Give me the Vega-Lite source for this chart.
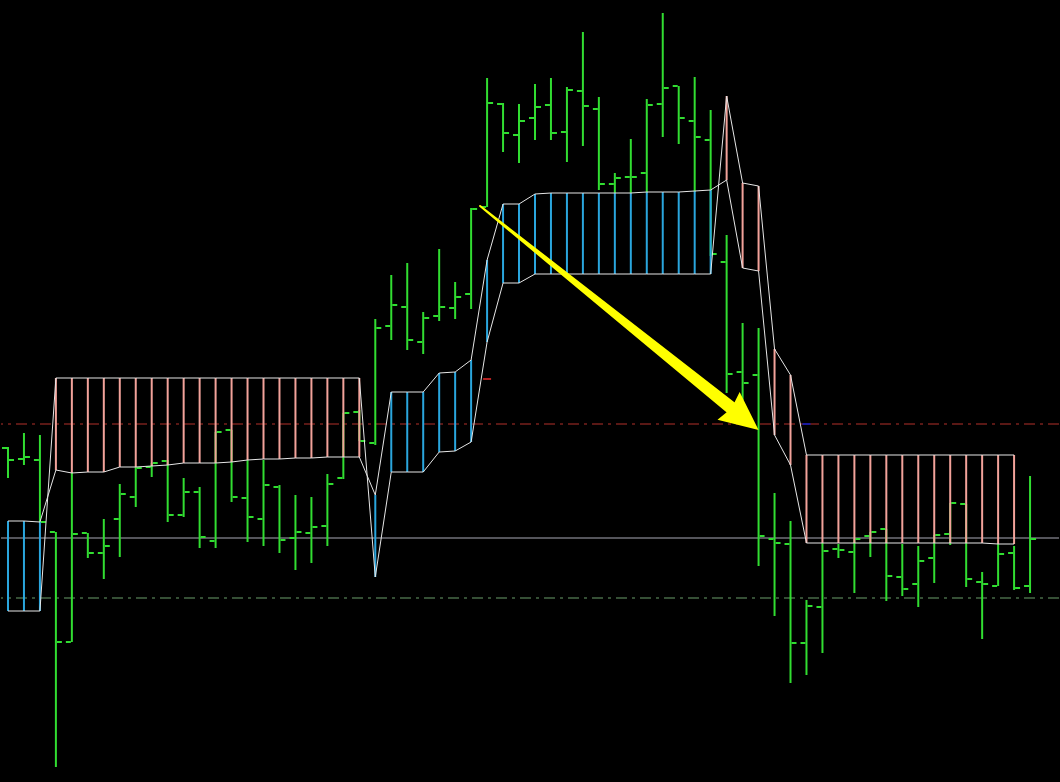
{
  "$schema": "https://vega.github.io/schema/vega-lite/v6.json",
  "width": 1060,
  "height": 782,
  "autosize": {"type": "fit", "contains": "padding"},
  "padding": 0,
  "background": "#000000",
  "config": {"view": {"stroke": null}},
  "resolve": {"scale": {"color": "independent", "strokeDash": "independent", "size": "independent"}},
  "datasets": {
    "bars": [
      {"i":0,"o":334,"h":335,"l":304,"c":322,"a":171,"b":261,"trend":"bull"},
      {"i":1,"o":323,"h":349,"l":317,"c":325,"a":171,"b":261,"trend":"bull"},
      {"i":2,"o":322,"h":347,"l":260,"c":260,"a":171,"b":260,"trend":"bull"},
      {"i":3,"o":250,"h":250,"l":15,"c":140,"a":404,"b":312,"trend":"bear"},
      {"i":4,"o":140,"h":310,"l":140,"c":248,"a":404,"b":309,"trend":"bear"},
      {"i":5,"o":249,"h":249,"l":224,"c":229,"a":404,"b":310,"trend":"bear"},
      {"i":6,"o":229,"h":263,"l":203,"c":236,"a":404,"b":310,"trend":"bear"},
      {"i":7,"o":263,"h":298,"l":225,"c":288,"a":404,"b":315,"trend":"bear"},
      {"i":8,"o":285,"h":315,"l":275,"c":314,"a":404,"b":315,"trend":"bear"},
      {"i":9,"o":315,"h":319,"l":305,"c":319,"a":404,"b":316,"trend":"bear"},
      {"i":10,"o":321,"h":322,"l":260,"c":267,"a":404,"b":317,"trend":"bear"},
      {"i":11,"o":267,"h":304,"l":265,"c":290,"a":404,"b":319,"trend":"bear"},
      {"i":12,"o":290,"h":295,"l":234,"c":245,"a":404,"b":319,"trend":"bear"},
      {"i":13,"o":241,"h":350,"l":234,"c":350,"a":404,"b":319,"trend":"bear"},
      {"i":14,"o":352,"h":352,"l":280,"c":285,"a":404,"b":320,"trend":"bear"},
      {"i":15,"o":284,"h":322,"l":240,"c":265,"a":404,"b":322,"trend":"bear"},
      {"i":16,"o":263,"h":322,"l":236,"c":297,"a":404,"b":323,"trend":"bear"},
      {"i":17,"o":295,"h":297,"l":229,"c":242,"a":404,"b":323,"trend":"bear"},
      {"i":18,"o":244,"h":287,"l":212,"c":250,"a":404,"b":324,"trend":"bear"},
      {"i":19,"o":249,"h":285,"l":219,"c":255,"a":404,"b":324,"trend":"bear"},
      {"i":20,"o":256,"h":308,"l":236,"c":298,"a":404,"b":325,"trend":"bear"},
      {"i":21,"o":304,"h":369,"l":303,"c":369,"a":404,"b":325,"trend":"bear"},
      {"i":22,"o":370,"h":372,"l":341,"c":341,"a":404,"b":325,"trend":"bear"},
      {"i":23,"o":339,"h":463,"l":337,"c":454,"a":205,"b":287,"trend":"bull"},
      {"i":24,"o":456,"h":507,"l":442,"c":477,"a":310,"b":390,"trend":"bull"},
      {"i":25,"o":475,"h":519,"l":432,"c":442,"a":310,"b":390,"trend":"bull"},
      {"i":26,"o":440,"h":470,"l":428,"c":464,"a":310,"b":390,"trend":"bull"},
      {"i":27,"o":466,"h":533,"l":461,"c":475,"a":330,"b":409,"trend":"bull"},
      {"i":28,"o":474,"h":500,"l":463,"c":485,"a":331,"b":410,"trend":"bull"},
      {"i":29,"o":488,"h":574,"l":473,"c":573,"a":340,"b":422,"trend":"bull"},
      {"i":30,"o":575,"h":704,"l":575,"c":679,"a":440,"b":522,"trend":"bull"},
      {"i":31,"o":678,"h":679,"l":630,"c":649,"a":499,"b":578,"trend":"bull"},
      {"i":32,"o":647,"h":678,"l":619,"c":661,"a":499,"b":578,"trend":"bull"},
      {"i":33,"o":664,"h":698,"l":642,"c":675,"a":508,"b":588,"trend":"bull"},
      {"i":34,"o":677,"h":704,"l":642,"c":649,"a":508,"b":589,"trend":"bull"},
      {"i":35,"o":650,"h":695,"l":620,"c":692,"a":508,"b":589,"trend":"bull"},
      {"i":36,"o":691,"h":750,"l":636,"c":676,"a":508,"b":589,"trend":"bull"},
      {"i":37,"o":673,"h":685,"l":592,"c":598,"a":508,"b":589,"trend":"bull"},
      {"i":38,"o":598,"h":609,"l":589,"c":604,"a":508,"b":589,"trend":"bull"},
      {"i":39,"o":605,"h":643,"l":589,"c":605,"a":508,"b":589,"trend":"bull"},
      {"i":40,"o":609,"h":683,"l":589,"c":677,"a":508,"b":590,"trend":"bull"},
      {"i":41,"o":678,"h":769,"l":645,"c":694,"a":508,"b":590,"trend":"bull"},
      {"i":42,"o":696,"h":696,"l":638,"c":664,"a":508,"b":590,"trend":"bull"},
      {"i":43,"o":661,"h":705,"l":590,"c":645,"a":508,"b":591,"trend":"bull"},
      {"i":44,"o":642,"h":672,"l":526,"c":528,"a":508,"b":592,"trend":"bull"},
      {"i":45,"o":520,"h":547,"l":389,"c":408,"a":686,"b":602,"trend":"bear"},
      {"i":46,"o":410,"h":459,"l":382,"c":399,"a":599,"b":514,"trend":"bear"},
      {"i":47,"o":407,"h":454,"l":216,"c":246,"a":596,"b":511,"trend":"bear"},
      {"i":48,"o":243,"h":289,"l":166,"c":239,"a":433,"b":347,"trend":"bear"},
      {"i":49,"o":238,"h":261,"l":99,"c":139,"a":407,"b":317,"trend":"bear"},
      {"i":50,"o":139,"h":182,"l":107,"c":176,"a":327,"b":239,"trend":"bear"},
      {"i":51,"o":175,"h":239,"l":129,"c":231,"a":327,"b":239,"trend":"bear"},
      {"i":52,"o":233,"h":238,"l":224,"c":232,"a":327,"b":239,"trend":"bear"},
      {"i":53,"o":230,"h":243,"l":189,"c":243,"a":327,"b":239,"trend":"bear"},
      {"i":54,"o":246,"h":250,"l":225,"c":250,"a":327,"b":239,"trend":"bear"},
      {"i":55,"o":253,"h":253,"l":181,"c":206,"a":327,"b":239,"trend":"bear"},
      {"i":56,"o":205,"h":238,"l":186,"c":193,"a":327,"b":239,"trend":"bear"},
      {"i":57,"o":198,"h":236,"l":175,"c":221,"a":327,"b":239,"trend":"bear"},
      {"i":58,"o":224,"h":247,"l":199,"c":247,"a":327,"b":239,"trend":"bear"},
      {"i":59,"o":248,"h":279,"l":237,"c":279,"a":327,"b":239,"trend":"bear"},
      {"i":60,"o":278,"h":278,"l":195,"c":203,"a":327,"b":239,"trend":"bear"},
      {"i":61,"o":200,"h":210,"l":143,"c":198,"a":327,"b":239,"trend":"bear"},
      {"i":62,"o":196,"h":238,"l":196,"c":228,"a":327,"b":238,"trend":"bear"},
      {"i":63,"o":229,"h":236,"l":192,"c":194,"a":327,"b":238,"trend":"bear"},
      {"i":64,"o":196,"h":306,"l":189,"c":243,"a":null,"b":null,"trend":null}
    ],
    "levels": [
      {"level":"resistance","v":358},
      {"level":"pivot","v":244},
      {"level":"support","v":184}
    ],
    "markers": [
      {"i":30,"v":403,"kind":"sell"},
      {"i":50,"v":358,"kind":"buy"}
    ],
    "arrow": [
      {"i":29.5625,"v":576,"t":0},
      {"i":45.375,"v":373,"t":1}
    ],
    "arrowhead": [
      {"i":47.0,"v":352}
    ]
  },
  "layer": [
    {
      "data": {"name": "levels"},
      "mark": {"type": "rule", "strokeWidth": 1},
      "encoding": {
        "y": {"field": "v", "type": "quantitative", "scale": {"domain": [0, 782], "nice": false, "zero": false}, "axis": null},
        "color": {"field": "level", "type": "nominal", "scale": {"domain": ["resistance","pivot","support"], "range": ["#B3302B","#A9A9B6","#6A9E6A"]}, "legend": null},
        "strokeDash": {"field": "level", "type": "nominal", "scale": {"domain": ["resistance","pivot","support"], "range": [[11,5,3,5],[1,0],[11,5,3,5]]}, "legend": null}
      }
    },
    {
      "data": {"name": "bars"},
      "mark": {"type": "rule", "color": "#31DD31", "strokeWidth": 2},
      "encoding": {
        "x": {"field": "i", "type": "quantitative", "scale": {"domain": [-0.4375, 65.8125], "nice": false, "zero": false}, "axis": null},
        "y": {"field": "l", "type": "quantitative", "axis": null},
        "y2": {"field": "h"}
      }
    },
    {
      "data": {"name": "bars"},
      "mark": {"type": "rule", "color": "#31DD31", "strokeWidth": 2, "xOffset": -6, "x2Offset": -1},
      "encoding": {
        "x": {"field": "i", "type": "quantitative"},
        "x2": {"field": "i"},
        "y": {"field": "o", "type": "quantitative"}
      }
    },
    {
      "data": {"name": "bars"},
      "mark": {"type": "rule", "color": "#31DD31", "strokeWidth": 2, "xOffset": 1, "x2Offset": 6},
      "encoding": {
        "x": {"field": "i", "type": "quantitative"},
        "x2": {"field": "i"},
        "y": {"field": "c", "type": "quantitative"}
      }
    },
    {
      "data": {"name": "bars"},
      "transform": [{"filter": "datum.a != null"}],
      "mark": {"type": "rule", "strokeWidth": 2},
      "encoding": {
        "x": {"field": "i", "type": "quantitative"},
        "y": {"field": "a", "type": "quantitative"},
        "y2": {"field": "b"},
        "color": {"field": "trend", "type": "nominal", "scale": {"domain": ["bear","bull"], "range": ["#F2A29A","#2AA6DE"]}, "legend": null}
      }
    },
    {
      "data": {"name": "bars"},
      "transform": [{"filter": "datum.a != null"}],
      "mark": {"type": "line", "color": "#E6E6E6", "strokeWidth": 1},
      "encoding": {
        "x": {"field": "i", "type": "quantitative"},
        "y": {"field": "a", "type": "quantitative"}
      }
    },
    {
      "data": {"name": "bars"},
      "transform": [{"filter": "datum.b != null"}],
      "mark": {"type": "line", "color": "#E6E6E6", "strokeWidth": 1},
      "encoding": {
        "x": {"field": "i", "type": "quantitative"},
        "y": {"field": "b", "type": "quantitative"}
      }
    },
    {
      "data": {"name": "markers"},
      "mark": {"type": "rule", "strokeWidth": 2, "xOffset": -4, "x2Offset": 4},
      "encoding": {
        "x": {"field": "i", "type": "quantitative"},
        "x2": {"field": "i"},
        "y": {"field": "v", "type": "quantitative"},
        "color": {"field": "kind", "type": "nominal", "scale": {"domain": ["sell","buy"], "range": ["#B02020","#1A1AA0"]}, "legend": null}
      }
    },
    {
      "data": {"name": "arrow"},
      "mark": {"type": "trail", "color": "#FFFF00"},
      "encoding": {
        "x": {"field": "i", "type": "quantitative"},
        "y": {"field": "v", "type": "quantitative"},
        "size": {"field": "t", "type": "quantitative", "scale": {"domain": [0, 1], "range": [2, 13]}, "legend": null}
      }
    },
    {
      "data": {"name": "arrowhead"},
      "mark": {"type": "point", "filled": true, "color": "#FFFF00", "opacity": 1, "size": 1482, "angle": 38.8, "shape": "M0,0L-2,-0.92L-1.8,0L-2,0.92Z"},
      "encoding": {
        "x": {"field": "i", "type": "quantitative"},
        "y": {"field": "v", "type": "quantitative"}
      }
    }
  ]
}
